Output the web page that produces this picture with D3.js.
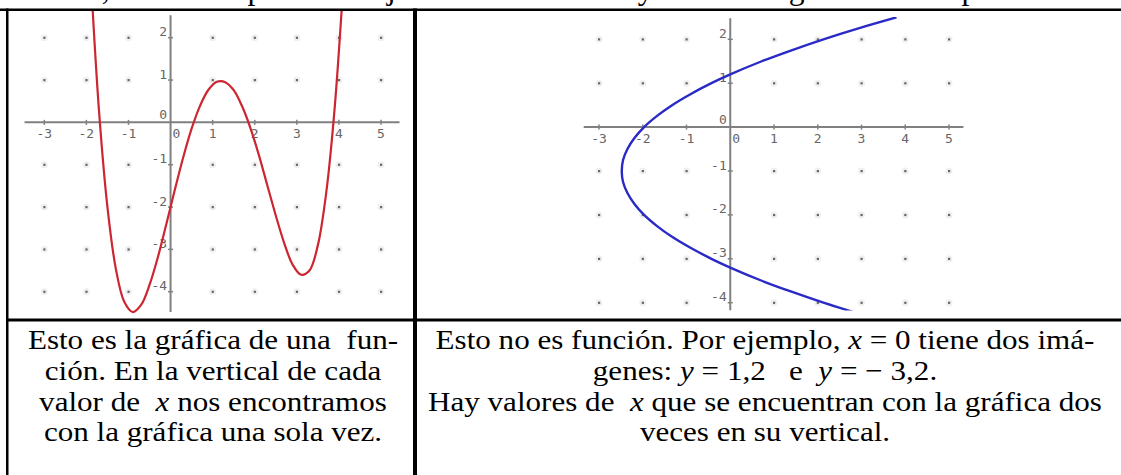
<!DOCTYPE html>
<html>
<head>
<meta charset="utf-8">
<script src="https://cdn.jsdelivr.net/npm/d3@7"></script>
<style>
  html, body { margin: 0; padding: 0; background: #fff; }
  svg { display: block; }
  text { white-space: pre; }
</style>
</head>
<body>
<svg id="chart" width="1121" height="475"></svg>
<script>
// Tick values shared by both coordinate planes
const xTicks = [-3, -2, -1, 0, 1, 2, 3, 4, 5];
const yTicks = [-4, -3, -2, -1, 0, 1, 2];

// Left panel: graph of a function (quartic-shaped curve), sampled points
const funcX = [-1.9, -1.7, -1.5, -1.3, -1.1, -0.9, -0.7, -0.5, -0.3, -0.1, 0.1, 0.3, 0.5, 0.7, 0.9,
               1.1, 1.3, 1.5, 1.7, 1.9, 2.1, 2.3, 2.5, 2.7, 2.9, 3.1, 3.3, 3.5, 3.7, 3.9, 4.1];
const funcY = [3.52, 0.27, -2.0, -3.46, -4.24, -4.48, -4.31, -3.84, -3.18, -2.4, -1.6, -0.83, -0.15, 0.39, 0.77,
               0.96, 0.95, 0.76, 0.38, -0.14, -0.78, -1.49, -2.2, -2.85, -3.36, -3.6, -3.5, -2.9, -1.65, 0.35, 3.2];

// Right panel: sideways parabola (not a function), sampled points
const relX = [3.8, 2.93, 2.13, 1.4, 0.72, 0, -0.43, -0.91, -1.33, -1.68, -1.97, -2.19, -2.35, -2.45, -2.48,
              -2.45, -2.35, -2.19, -1.97, -1.68, -1.33, -0.91, -0.43, 0, 0.72, 1.4, 2.13, 2.93];
const relY = [2.5, 2.25, 2.0, 1.75, 1.5, 1.2, 1.0, 0.75, 0.5, 0.25, 0, -0.25, -0.5, -0.75, -1.0,
              -1.25, -1.5, -1.75, -2.0, -2.25, -2.5, -2.75, -3.0, -3.2, -3.5, -3.75, -4.0, -4.25];

// Text lines (segments: [text, italic])
const topLine = "también, o lo no se puede dibujar con una vertical y esto en la gráfica correspondiente.";
const captionLeft = [
  [["Esto es la gráfica de una  fun-", false]],
  [["ción. En la vertical de cada", false]],
  [["valor de  ", false], ["x", true], [" nos encontramos", false]],
  [["con la gráfica una sola vez.", false]]
];
const captionRight = [
  [["Esto no es función. Por ejemplo, ", false], ["x", true], [" = 0 tiene dos imá-", false]],
  [["genes: ", false], ["y", true], [" = 1,2   e  ", false], ["y", true], [" = − 3,2.", false]],
  [["Hay valores de  ", false], ["x", true], [" que se encuentran con la gráfica dos", false]],
  [["veces en su vertical.", false]]
];

const svg = d3.select("#chart");
svg.append("rect").attr("width", 1121).attr("height", 475).attr("fill", "#fff");

// Partial line of running text above the table
svg.append("text")
  .attr("x", 0).attr("y", -1)
  .attr("font-family", "'Liberation Serif', 'Times New Roman', serif")
  .attr("font-size", 31.6)
  .attr("fill", "#000")
  .text(topLine);

const defs = svg.append("defs");

function drawPlane(cfg) {
  const x = d3.scaleLinear().domain([-3, 5]).range(cfg.xRange);
  const y = d3.scaleLinear().domain([-4, 2]).range(cfg.yRange);
  const g = svg.append("g");
  const axisColor = "#808080";
  const labelColor = "#666";

  // Grid dots at integer lattice points off the axes
  const dots = [];
  xTicks.forEach(a => yTicks.forEach(b => { if (a !== 0 && b !== 0) dots.push([a, b]); }));
  g.selectAll("circle.halo").data(dots).enter().append("circle")
    .attr("cx", d => x(d[0])).attr("cy", d => y(d[1])).attr("r", 3.5)
    .attr("fill", "#f0f0f0");
  g.selectAll("rect.dot").data(dots).enter().append("rect")
    .attr("x", d => x(d[0]) - 1).attr("y", d => y(d[1]) - 1)
    .attr("width", 2.2).attr("height", 2.2).attr("fill", "#666");

  // Axes lines
  g.append("line")
    .attr("x1", x(cfg.xExtent[0])).attr("x2", x(cfg.xExtent[1]))
    .attr("y1", y(0)).attr("y2", y(0))
    .attr("stroke", axisColor).attr("stroke-width", 2);
  g.append("line")
    .attr("x1", x(0)).attr("x2", x(0))
    .attr("y1", y(cfg.yExtent[0])).attr("y2", y(cfg.yExtent[1]))
    .attr("stroke", axisColor).attr("stroke-width", 2);

  // Tick marks
  g.selectAll("line.xt").data(xTicks.filter(t => t !== 0)).enter().append("line")
    .attr("x1", d => x(d)).attr("x2", d => x(d))
    .attr("y1", y(0) - 2.5).attr("y2", y(0) + 2.5)
    .attr("stroke", axisColor).attr("stroke-width", 1.5);
  g.selectAll("line.yt").data(yTicks.filter(t => t !== 0)).enter().append("line")
    .attr("x1", x(0) - 2.5).attr("x2", x(0) + 2.5)
    .attr("y1", d => y(d)).attr("y2", d => y(d))
    .attr("stroke", axisColor).attr("stroke-width", 1.5);

  const fmt = v => (v < 0 ? "-" : "") + Math.abs(v);

  // X tick labels (0 sits just right of the vertical axis)
  g.selectAll("text.xl").data(xTicks).enter().append("text")
    .attr("x", d => d === 0 ? x(0) + 2 : x(d))
    .attr("y", y(0) + 15.5)
    .attr("text-anchor", d => d === 0 ? "start" : "middle")
    .attr("font-family", "'DejaVu Sans Mono', monospace")
    .attr("font-size", 13)
    .attr("fill", labelColor)
    .text(fmt);

  // Y tick labels to the left of the vertical axis
  g.selectAll("text.yl").data(yTicks).enter().append("text")
    .attr("x", x(0) - 3.5)
    .attr("y", d => d === 0 ? y(0) - 3 : y(d) - 1.5)
    .attr("text-anchor", "end")
    .attr("font-family", "'DejaVu Sans Mono', monospace")
    .attr("font-size", 13)
    .attr("fill", labelColor)
    .text(fmt);

  // Curve clipped to the plotting area
  defs.append("clipPath").attr("id", cfg.id + "-clip")
    .append("rect")
    .attr("x", cfg.clip[0]).attr("y", cfg.clip[1])
    .attr("width", cfg.clip[2]).attr("height", cfg.clip[3]);

  const line = d3.line()
    .x((d, i) => x(cfg.xs[i]))
    .y((d, i) => y(cfg.ys[i]))
    .curve(d3.curveCatmullRom.alpha(0.5));

  g.append("path")
    .attr("clip-path", `url(#${cfg.id}-clip)`)
    .attr("d", line(cfg.xs))
    .attr("fill", "none")
    .attr("stroke", cfg.color)
    .attr("stroke-width", cfg.width)
    .attr("stroke-linejoin", "round");
}

drawPlane({
  id: "func",
  xRange: [44.3, 381], yRange: [291.7, 37.7],
  xExtent: [-3.47, 5.44], yExtent: [-4.48, 2.53],
  xs: funcX, ys: funcY,
  clip: [8, 10.5, 404, 308],
  color: "#cc2630", width: 2.2
});

drawPlane({
  id: "rel",
  xRange: [599, 949], yRange: [302.7, 39.3],
  xExtent: [-3.35, 5.33], yExtent: [-4.17, 2.48],
  xs: relX, ys: relY,
  clip: [417, 17, 600, 293.5],
  color: "#2a2ac6", width: 2.4
});

// Table borders
const black = "#000";
svg.append("rect").attr("x", 0).attr("y", 8.5).attr("width", 1121).attr("height", 2.5).attr("fill", black);
svg.append("rect").attr("x", 6).attr("y", 8.5).attr("width", 2.5).attr("height", 475).attr("fill", black);
svg.append("rect").attr("x", 413).attr("y", 8.5).attr("width", 4).attr("height", 475).attr("fill", black);
svg.append("rect").attr("x", 6).attr("y", 318.5).attr("width", 1115).attr("height", 3).attr("fill", black);

// Captions: set slightly small and widened so lines sit close without colliding
function caption(lines, cx, baselines) {
  lines.forEach((segs, i) => {
    const t = svg.append("text")
      .attr("transform", `translate(${cx},${baselines[i]}) scale(1.11,1)`)
      .attr("x", 0).attr("y", 0)
      .attr("text-anchor", "middle")
      .attr("font-family", "'Liberation Serif', 'Times New Roman', serif")
      .attr("font-size", 28)
      .attr("fill", "#000");
    segs.forEach(s => {
      t.append("tspan").attr("font-style", s[1] ? "italic" : "normal").text(s[0]);
    });
  });
}
const baselines = [349, 380, 410.5, 441];
caption(captionLeft, 213, baselines);
caption(captionRight, 765, baselines);
</script>
</body>
</html>
